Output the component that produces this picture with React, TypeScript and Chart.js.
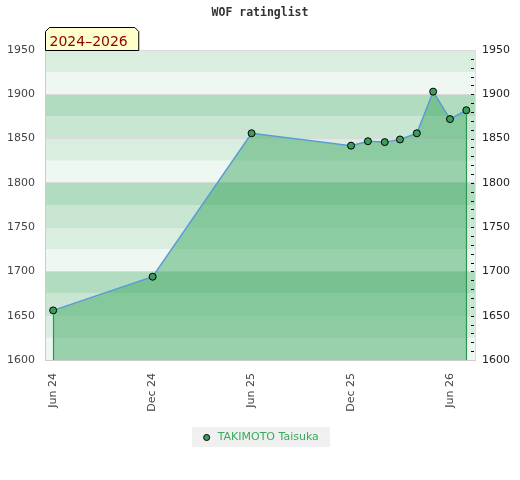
import React, { useEffect, useRef } from "react";
import { Chart, registerables } from "chart.js";

Chart.register(...registerables);

const chartTitle = "WOF ratinglist";
const periodLabel = "2024–2026";
const playerName = "TAKIMOTO Taisuka";

const ratingDates = [
  "2024-06-01",
  "2024-12-01",
  "2025-06-01",
  "2025-12-01",
  "2026-01-01",
  "2026-02-01",
  "2026-03-01",
  "2026-04-01",
  "2026-05-01",
  "2026-06-01",
  "2026-07-01",
];
const ratings = [1656, 1694, 1856, 1842, 1847, 1846, 1849, 1856, 1903, 1872, 1882];

const xTickDates = ["2024-06-01", "2024-12-01", "2025-06-01", "2025-12-01", "2026-06-01"];
const xTickLabels = ["Jun 24", "Dec 24", "Jun 25", "Dec 25", "Jun 26"];
const xRangeDates = ["2024-05-17", "2026-07-17"];

const yTicks = [1600, 1650, 1700, 1750, 1800, 1850, 1900, 1950];
const yMinorStep = 10;
const yMin = 1600;
const yMax = 1950;

const bandSize = 25;
const bandColors = ["#eef7f1", "#daeee0", "#c8e6d2", "#b2dcc0"];

const toTime = (d: string) => Date.parse(d + "T00:00:00Z");

const bandsPlugin = {
  id: "bands",
  beforeDraw(chart: any) {
    const { ctx, chartArea, scales } = chart;
    const y = scales.y;
    ctx.save();
    for (let v = yMin, i = 0; v < yMax; v += bandSize, i++) {
      const top = y.getPixelForValue(v + bandSize);
      const bottom = y.getPixelForValue(v);
      ctx.fillStyle = bandColors[i % bandColors.length];
      ctx.fillRect(chartArea.left, top, chartArea.right - chartArea.left, bottom - top);
    }
    // legend background
    const lg = chart.legend;
    if (lg && lg.legendHitBoxes && lg.legendHitBoxes.length) {
      const hb = lg.legendHitBoxes[0];
      ctx.fillStyle = "#f0f0f0";
      ctx.fillRect(hb.left - 9, hb.top - 5, hb.width + 20, hb.height + 9);
    }
    ctx.restore();
  },
};

const overlayPlugin = {
  id: "overlay",
  afterDatasetsDraw(chart: any) {
    const { ctx, chartArea } = chart;
    const meta = chart.getDatasetMeta(0);
    const pts = meta.data;
    if (pts.length) {
      ctx.save();
      ctx.strokeStyle = "#2c9650";
      ctx.lineWidth = 1.2;
      [pts[0], pts[pts.length - 1]].forEach((p: any) => {
        ctx.beginPath();
        ctx.moveTo(Math.round(p.x) + 0.5, p.y + 4);
        ctx.lineTo(Math.round(p.x) + 0.5, chartArea.bottom);
        ctx.stroke();
      });
      ctx.restore();
    }
  },
  afterDraw(chart: any) {
    const { ctx, chartArea, scales } = chart;
    // minor ticks on right axis, inside plot
    const y2 = scales.y2;
    ctx.save();
    ctx.strokeStyle = "#000";
    ctx.lineWidth = 1;
    y2.ticks.forEach((t: any) => {
      if (t.value <= yMin || t.value >= yMax) return;
      const py = Math.round(y2.getPixelForValue(t.value)) + 0.5;
      ctx.beginPath();
      ctx.moveTo(chartArea.right - 4, py);
      ctx.lineTo(chartArea.right - 1, py);
      ctx.stroke();
    });
    // period label box
    ctx.font = "14px 'DejaVu Sans'";
    const tw = ctx.measureText(periodLabel).width;
    const left = chartArea.left + 0.5;
    const bottom = chartArea.top + 0.5;
    const top = bottom - 23;
    const right = left + tw + 15;
    const c = 4;
    ctx.beginPath();
    ctx.moveTo(left, bottom);
    ctx.lineTo(left, top + c);
    ctx.lineTo(left + c, top);
    ctx.lineTo(right - c, top);
    ctx.lineTo(right, top + c);
    ctx.lineTo(right, bottom);
    ctx.closePath();
    ctx.fillStyle = "#ffffcc";
    ctx.fill();
    ctx.strokeStyle = "#000";
    ctx.stroke();
    ctx.fillStyle = "#8b0000";
    ctx.textBaseline = "alphabetic";
    ctx.textAlign = "left";
    ctx.fillText(periodLabel, left + 4, bottom - 5);
    ctx.restore();
  },
};

function RatingChart() {
  const ref = useRef<HTMLCanvasElement | null>(null);

  useEffect(() => {
    document.body.style.margin = "0";
    const canvas = ref.current;
    if (!canvas) return;
    const points = ratingDates.map((d, i) => ({ x: toTime(d), y: ratings[i] }));
    const xTickValues = xTickDates.map(toTime);

    const chart = new Chart(canvas, {
      type: "line",
      data: {
        datasets: [
          {
            label: playerName,
            data: points,
            borderColor: "#5b9bd5",
            borderWidth: 1.5,
            backgroundColor: "rgba(56,166,94,0.47)",
            fill: "start",
            pointRadius: 3.5,
            pointBackgroundColor: "#3a9e5c",
            pointBorderColor: "#000",
            pointBorderWidth: 1,
            tension: 0,
          },
        ],
      },
      options: {
        animation: false,
        responsive: false,
        devicePixelRatio: 1,
        layout: { padding: { top: 0, left: 0, right: 0, bottom: 27 } },
        plugins: {
          title: {
            display: true,
            text: chartTitle,
            color: "#333",
            font: { family: "'DejaVu Sans Mono'", size: 11.5, weight: "bold" },
            padding: { top: 6, bottom: 30.2 },
          },
          legend: {
            display: true,
            position: "bottom",
            labels: {
              usePointStyle: true,
              boxWidth: 11,
              boxHeight: 4.3,
              color: "#3aaa5e",
              font: { family: "'DejaVu Sans'", size: 11 },
              padding: 10,
            },
          },
          tooltip: { enabled: false },
        },
        scales: {
          x: {
            type: "linear",
            min: toTime(xRangeDates[0]),
            max: toTime(xRangeDates[1]),
            afterBuildTicks: (s: any) => {
              s.ticks = xTickValues.map((value) => ({ value }));
            },
            afterFit: (s: any) => {
              s.height = 62;
            },
            ticks: {
              autoSkip: false,
              maxRotation: 90,
              minRotation: 90,
              padding: 5,
              color: "#444",
              font: { family: "'DejaVu Sans'", size: 11 },
              callback: (v: any) => {
                const i = xTickValues.indexOf(v);
                return i >= 0 ? xTickLabels[i] : "";
              },
            },
            grid: { display: false },
            border: { display: true, color: "#cccccc" },
          },
          y: {
            position: "left",
            min: yMin,
            max: yMax,
            afterBuildTicks: (s: any) => {
              s.ticks = yTicks.map((value) => ({ value }));
            },
            afterFit: (s: any) => {
              s.width = 45;
            },
            ticks: {
              autoSkip: false,
              padding: 10,
              color: "#444",
              font: { family: "'DejaVu Sans'", size: 11 },
              callback: (v: any) => String(v),
            },
            grid: { color: "#d9d9d9", drawTicks: false },
            border: { display: true, color: "#cccccc" },
          },
          y2: {
            position: "right",
            min: yMin,
            max: yMax,
            afterBuildTicks: (s: any) => {
              const t: any[] = [];
              for (let v = yMin; v <= yMax; v += yMinorStep) t.push({ value: v });
              s.ticks = t;
            },
            afterFit: (s: any) => {
              s.width = 45;
            },
            ticks: {
              autoSkip: false,
              padding: 7,
              color: "#222",
              font: { family: "'DejaVu Sans'", size: 11 },
              callback: (v: any) => (yTicks.indexOf(v) >= 0 ? String(v) : ""),
            },
            grid: { display: false, drawOnChartArea: false, drawTicks: false },
            border: { display: true, color: "#dddddd" },
          },
        },
      },
      plugins: [bandsPlugin, overlayPlugin],
    } as any);

    return () => chart.destroy();
  }, []);

  return (
    <div style={{ width: 520, height: 480 }}>
      <canvas ref={ref} width={520} height={480} style={{ display: "block" }} />
    </div>
  );
}

export default function App() {
  return <RatingChart />;
}
